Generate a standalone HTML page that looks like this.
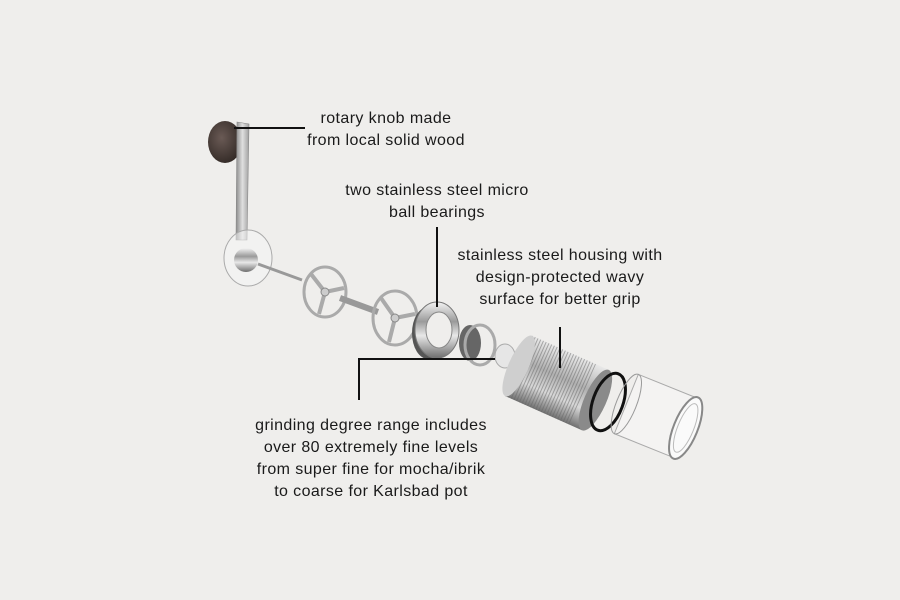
<!DOCTYPE html>
<html><head><style>
html,body{margin:0;padding:0;background:#efeeec;}
svg{display:block}
text{font-family:"Liberation Sans",sans-serif;font-size:16px;letter-spacing:0.4px;fill:#1a1a1a;text-anchor:middle;}
</style></head><body>
<svg width="900" height="600" viewBox="0 0 900 600">
<defs>
<linearGradient id="steel" x1="0" y1="0" x2="0" y2="1">
<stop offset="0" stop-color="#f4f4f4"/><stop offset=".35" stop-color="#9a9a9a"/><stop offset=".6" stop-color="#e8e8e8"/><stop offset="1" stop-color="#6e6e6e"/></linearGradient>
<linearGradient id="arm" x1="0" y1="0" x2="1" y2="0">
<stop offset="0" stop-color="#8a8a8a"/><stop offset=".5" stop-color="#e0e0e0"/><stop offset="1" stop-color="#a0a0a0"/></linearGradient>
<linearGradient id="cyl" x1="0" y1="0" x2="0" y2="1">
<stop offset="0" stop-color="#e8e8e8"/><stop offset=".4" stop-color="#b0b0b0"/><stop offset=".7" stop-color="#d8d8d8"/><stop offset="1" stop-color="#707070"/></linearGradient>
<radialGradient id="wood" cx=".4" cy=".4" r=".7"><stop offset="0" stop-color="#6a5a55"/><stop offset="1" stop-color="#2e2622"/></radialGradient>
<pattern id="thread" width="3" height="3" patternUnits="userSpaceOnUse"><rect width="3" height="3" fill="#fff" fill-opacity="0"/><rect width="1" height="3" fill="#666" fill-opacity=".5"/></pattern>
</defs>
<!-- knob & arm -->
<ellipse cx="225" cy="142" rx="17" ry="21" fill="url(#wood)"/>
<path d="M237 122 L249 124 L247 240 L236 240 Z" fill="url(#arm)" stroke="#888" stroke-width=".6"/>
<!-- disc -->
<ellipse cx="248" cy="258" rx="24" ry="28" fill="#f6f6f6" fill-opacity=".5" stroke="#aaa" stroke-width="1"/>
<ellipse cx="246" cy="260" rx="12" ry="12" fill="url(#steel)"/>
<line x1="258" y1="264" x2="302" y2="280" stroke="#999" stroke-width="3"/>
<!-- wheel 1 -->
<g transform="translate(325,292)">
<ellipse rx="21" ry="25" fill="none" stroke="#aaa" stroke-width="3"/>
<path d="M0 0 L-14 -18 M0 0 L19 -4 M0 0 L-6 22" stroke="#aaa" stroke-width="4"/>
<circle r="4" fill="#ccc" stroke="#888"/></g>
<line x1="340" y1="298" x2="378" y2="312" stroke="#999" stroke-width="6"/>
<!-- wheel 2 -->
<g transform="translate(395,318)">
<ellipse rx="22" ry="27" fill="none" stroke="#aaa" stroke-width="3"/>
<path d="M0 0 L-14 -20 M0 0 L20 -4 M0 0 L-6 24" stroke="#aaa" stroke-width="4"/>
<circle r="4" fill="#ccc" stroke="#888"/></g>
<!-- bearing ring -->
<ellipse cx="428" cy="333" rx="16" ry="26" fill="#555"/>
<ellipse cx="437" cy="330" rx="22" ry="28" fill="url(#steel)" stroke="#777"/>
<ellipse cx="439" cy="330" rx="13" ry="18" fill="#efeeec" stroke="#888"/>
<!-- small ring -->
<ellipse cx="470" cy="343" rx="11" ry="18" fill="#666"/>
<ellipse cx="480" cy="345" rx="15" ry="20" fill="none" stroke="#aaa" stroke-width="3"/>
<ellipse cx="505" cy="356" rx="10" ry="12" fill="#e6e6e6" stroke="#aaa"/>
<!-- housing -->
<g transform="translate(557,383) rotate(24)">
<rect x="-42" y="-33" width="84" height="66" fill="url(#cyl)"/>
<rect x="-42" y="-33" width="70" height="66" fill="url(#thread)"/>
<ellipse cx="-42" cy="0" rx="10" ry="33" fill="#cfcfcf"/>
<ellipse cx="42" cy="0" rx="11" ry="33" fill="#8a8a8a"/>
</g>
<ellipse cx="608" cy="402" rx="15" ry="30" fill="none" stroke="#111" stroke-width="3" transform="rotate(20 608 402)"/>
<!-- glass -->
<g transform="translate(656,416) rotate(22)">
<rect x="-32" y="-32" width="64" height="64" fill="#f7f7f7" fill-opacity=".6" stroke="#aaa"/>
<ellipse cx="-32" cy="0" rx="10" ry="32" fill="none" stroke="#999"/>
<ellipse cx="32" cy="0" rx="12" ry="33" fill="#fafafa" stroke="#888" stroke-width="2"/>
<ellipse cx="32" cy="0" rx="8" ry="26" fill="none" stroke="#bbb"/>
</g>
<!-- callout lines -->
<g stroke="#111" stroke-width="2" fill="none">
<line x1="234" y1="128" x2="305" y2="128"/>
<line x1="437" y1="227" x2="437" y2="307"/>
<line x1="560" y1="327" x2="560" y2="368"/>
<polyline points="495,359 359,359 359,400"/>
</g>
<text x="386" y="123">rotary knob made</text>
<text x="386" y="145">from local solid wood</text>
<text x="437" y="195">two stainless steel micro</text>
<text x="437" y="217">ball bearings</text>
<text x="560" y="260">stainless steel housing with</text>
<text x="560" y="282">design-protected wavy</text>
<text x="560" y="304">surface for better grip</text>
<text x="371" y="430">grinding degree range includes</text>
<text x="371" y="452">over 80 extremely fine levels</text>
<text x="371" y="474">from super fine for mocha/ibrik</text>
<text x="371" y="496">to coarse for Karlsbad pot</text>
</svg>
</body></html>
